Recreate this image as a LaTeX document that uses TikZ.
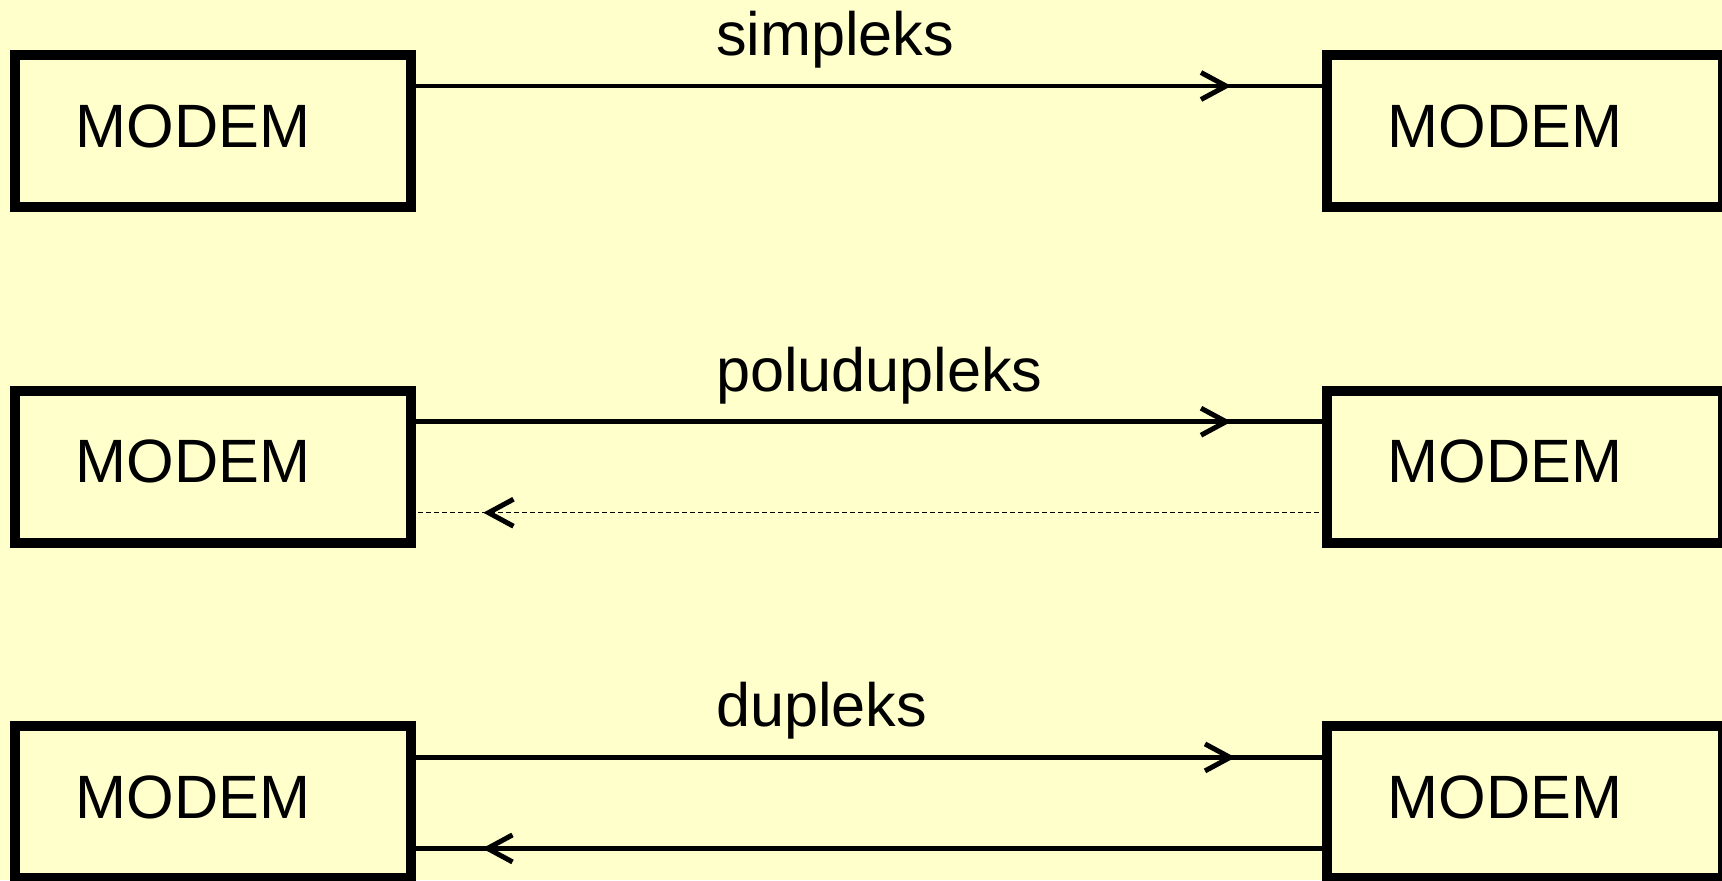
\documentclass[tikz,border=0pt]{standalone}
\usepackage{fontspec}
\setmainfont{Liberation Sans}
\usetikzlibrary{decorations.markings}
\definecolor{bg}{HTML}{FFFFCC}
\begin{document}
\begin{tikzpicture}[x=0.5pt,y=-0.5pt,
  modembox/.style={draw=black, line width=5pt, minimum width=198pt, minimum height=76pt,
    inner sep=0pt, outer sep=0pt, anchor=north west},
  txt/.style={inner sep=0pt, outer sep=0pt, anchor=base west, font=\fontsize{30.6pt}{36pt}\selectfont},
  chev/.style={draw=black, solid, line width=2.5pt, line join=miter},
  link/.style={draw=black, line width=2.3pt},
  thinlink/.style={draw=black, line width=0.5pt, dash pattern=on 2.5pt off 1.5pt},
  fwdmark/.style={postaction={decorate}, decoration={markings,
    mark=at position #1 with {\draw[chev] (-25,-13.5) -- (0,0) -- (-25,13.5);}}},
]
\path[use as bounding box, fill=bg] (0,0) rectangle (1722,880);
\clip (0,0) rectangle (1722,880);

% row 1
\node[modembox] (L1) at (15,55) {};
\node[modembox] (R1) at (1326.5,55) {};
\node[txt] (tL1) at (75.5,147) {MODEM};
\node[txt] (tR1) at (1387.5,147) {MODEM};
\node[txt] (s1) at (716,55) {simpleks};
\draw[link, fwdmark=407.5pt] ([yshift=-15.5pt]L1.north east) -- ([yshift=-15.5pt]R1.north west);

% row 2
\node[modembox] (L2) at (15,390.7) {};
\node[modembox] (R2) at (1326.5,390.7) {};
\node[txt] (tL2) at (75.5,482.7) {MODEM};
\node[txt] (tR2) at (1387.5,482.7) {MODEM};
\node[txt] (s2) at (716,391.5) {poludupleks};
\draw[link, fwdmark=407.5pt] ([yshift=-15.5pt]L2.north east) -- ([yshift=-15.5pt]R2.north west);
\draw[thinlink, fwdmark=419pt] ([yshift=-61pt]R2.north west) -- ([yshift=-61pt]L2.north east);

% row 3
\node[modembox] (L3) at (15,726.4) {};
\node[modembox] (R3) at (1326.5,726.4) {};
\node[txt] (tL3) at (75.5,818.4) {MODEM};
\node[txt] (tR3) at (1387.5,818.4) {MODEM};
\node[txt] (s3) at (716,726) {dupleks};
\draw[link, fwdmark=409.5pt] ([yshift=-15.5pt]L3.north east) -- ([yshift=-15.5pt]R3.north west);
\draw[link, fwdmark=419.5pt] ([yshift=-61pt]R3.north west) -- ([yshift=-61pt]L3.north east);
\end{tikzpicture}
\end{document}
